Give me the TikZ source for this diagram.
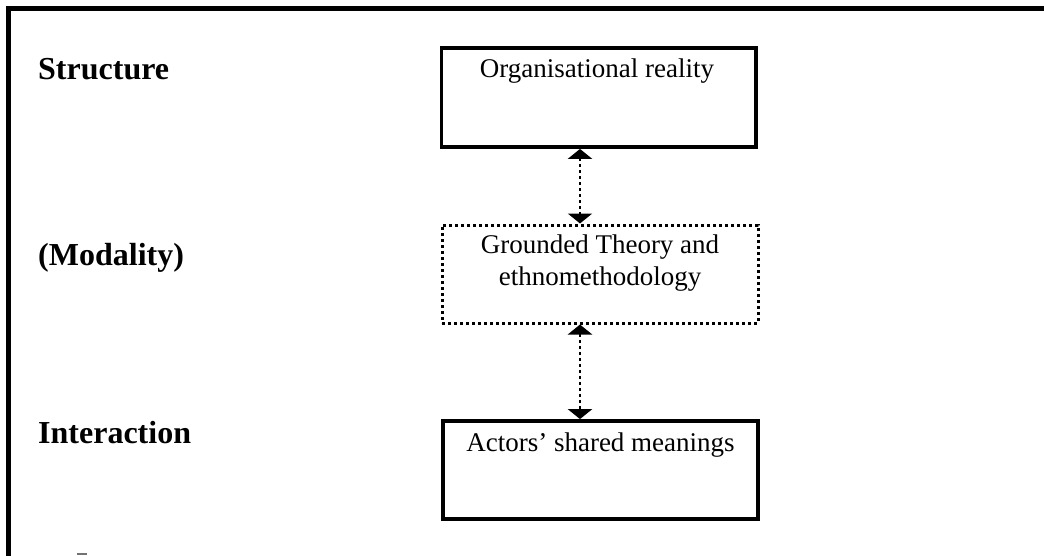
\documentclass[tikz,border=0pt]{standalone}
\usepackage{fontspec}
\setmainfont{Liberation Serif}
\usetikzlibrary{arrows.meta}
\begin{document}
\begin{tikzpicture}[x=1pt,y=-1pt,
  levellabel/.style={anchor=base west,inner sep=0pt,font=\fontsize{32}{38}\selectfont\bfseries},
  solidbox/.style={draw,line width=3.8pt,inner sep=0pt},
  dotbox/.style={draw,line width=3pt,dash pattern=on 3pt off 3pt,inner sep=0pt},
  boxtext/.style={anchor=base,inner sep=0pt,align=center,font=\fontsize{27}{32}\selectfont},
  link/.style={line width=2.8pt,dash pattern=on 2.8pt off 3.2pt,
    {Triangle[width=24pt,length=10pt]}-{Triangle[width=24pt,length=10pt]}}]
  \useasboundingbox (0,0) rectangle (1044,555);

  % frame (top and left rules)
  \draw[line width=4.2pt] (8.5,560) |- (1050,8.5);
  \fill[black!55] (77,553.4) rectangle (87,555);

  % level labels
  \node[levellabel] (lstruct) at (38,79) {Structure};
  \node[levellabel] (lmod) at (38,265) {(Modality)};
  \node[levellabel] (linter) at (38,443) {Interaction};

  % boxes
  \node[solidbox,minimum width=314.5pt,minimum height=99pt] (org) at (598.75,97.5) {};
  \node[dotbox,minimum width=316pt,minimum height=98pt] (gt) at (600,274) {};
  \node[solidbox,minimum width=315pt,minimum height=98pt] (act) at (600.5,470) {};

  % box texts (multi-line nodes sit on their last baseline)
  \node[boxtext] (torg) at (597,77) {Organisational reality};
  \node[boxtext] (tgt) at (600,285) {Grounded Theory and\\ethnomethodology};
  \node[boxtext] (tact) at (600.5,451) {Actors' shared meanings};

  % two-way links
  \coordinate (ax) at (580,0);
  \draw[link] (ax |- org.south) -- (ax |- gt.north);
  \draw[link] (ax |- gt.south) -- (ax |- act.north);
\end{tikzpicture}
\end{document}
